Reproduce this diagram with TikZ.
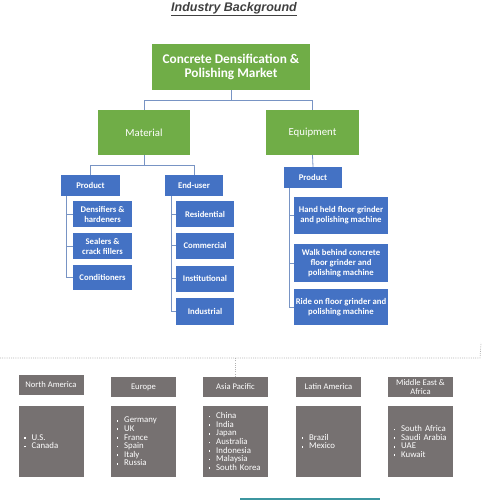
\documentclass[tikz,border=0pt]{standalone}
\usepackage{fontspec}
\setmainfont{Carlito}
\newfontfamily\headfont{Liberation Sans}
\definecolor{mktgreen}{HTML}{70AD47}
\definecolor{segblue}{HTML}{4472C4}
\definecolor{regiongray}{HTML}{767171}
\definecolor{linkblue}{RGB}{120,148,196}
\definecolor{tealbar}{RGB}{60,150,160}
\newcommand{\itm}{\rule[0.3ex]{1.7pt}{1.7pt}\hspace{6pt}}
\tikzset{
  greenbox/.style = {fill = mktgreen, text = white, align = center, inner sep = 0pt},
  bluebox/.style = {fill = segblue, text = white, align = center, inner sep = 0pt,
    font = \bfseries\fontsize{8.7}{10}\selectfont},
  regionhead/.style = {fill = regiongray, text = white, align = center, inner sep = 0pt,
    minimum width = 65pt, minimum height = 20pt, font = \fontsize{8.6}{9.5}\selectfont},
  regionlist/.style = {fill = regiongray, text = white, align = left, inner xsep = 5.5pt,
    inner ysep = 0pt, text width = 54pt, minimum height = 71pt,
    font = \fontsize{8.8}{8.6}\selectfont},
  link/.style = {draw = linkblue, line width = 0.8pt},
  dotline/.style = {draw = black!30, line width = 0.7pt, dash pattern = on 1pt off 1.2pt}
}
\begin{document}
\begin{tikzpicture}[x = 1pt, y = -1pt]
\useasboundingbox (0,0) rectangle (500,500);
\node[font = \headfont\bfseries\itshape\fontsize{12.5}{14}\selectfont, text = black!75] (title) at (234,9) {\underline{Industry Background}};
% market tree
\node[greenbox, minimum width = 158pt, minimum height = 46pt, font = \bfseries\fontsize{13.3}{14.5}\selectfont] (market) at (231,67) {Concrete Densification \&\\Polishing Market};
\node[greenbox, minimum width = 92pt, minimum height = 45pt, font = \fontsize{10.8}{12}\selectfont] (material) at (144,132.5) {Material};
\node[greenbox, minimum width = 93pt, minimum height = 45pt, font = \fontsize{10.8}{12}\selectfont] (equipment) at (312.5,132.5) {Equipment};
\node[bluebox, minimum width = 59pt, minimum height = 21pt] (matproduct) at (90.5,185.5) {Product};
\node[bluebox, minimum width = 58pt, minimum height = 21pt] (enduser) at (194,185.5) {End-user};
\node[bluebox, minimum width = 59pt, minimum height = 26pt] (densifiers) at (102.5,214) {Densifiers \&\\hardeners};
\node[bluebox, minimum width = 59pt, minimum height = 26pt] (sealers) at (102.5,246) {Sealers \&\\crack fillers};
\node[bluebox, minimum width = 59pt, minimum height = 25pt] (conditioners) at (102.5,277.5) {Conditioners};
\node[bluebox, minimum width = 58pt, minimum height = 26pt] (residential) at (205,214) {Residential};
\node[bluebox, minimum width = 58pt, minimum height = 26pt] (commercial) at (205,245.5) {Commercial};
\node[bluebox, minimum width = 58pt, minimum height = 26pt] (institutional) at (205,278.5) {Institutional};
\node[bluebox, minimum width = 58pt, minimum height = 27pt] (industrial) at (205,311.5) {Industrial};
\node[bluebox, minimum width = 58pt, minimum height = 21pt] (eqproduct) at (313,177.5) {Product};
\node[bluebox, minimum width = 94pt, minimum height = 37pt] (handheld) at (341,215.5) {Hand held floor grinder\\and polishing machine};
\node[bluebox, minimum width = 94pt, minimum height = 38pt] (walkbehind) at (341,263) {Walk behind concrete\\floor grinder and\\polishing machine};
\node[bluebox, minimum width = 94pt, minimum height = 36pt] (rideon) at (341,307) {Ride on floor grinder and\\polishing machine};
\draw[link] (market.south) -- ++(0,10) -| (material.north);
\draw[link] (market.south) -- ++(0,10) -| (equipment.north);
\draw[link] (material.south) -- ++(0,10) -| (matproduct.north);
\draw[link] (material.south) -- ++(0,10) -| (enduser.north);
\draw[link] (equipment.south) -- (eqproduct.north);
\foreach \n in {densifiers, sealers, conditioners}
  \draw[link] ([xshift = 6pt]matproduct.south west) |- (\n.west);
\foreach \n in {residential, commercial, institutional, industrial}
  \draw[link] ([xshift = 7pt]enduser.south west) |- (\n.west);
\foreach \n in {handheld, walkbehind, rideon}
  \draw[link] ([xshift = 6pt]eqproduct.south west) |- (\n.west);
% regions
\node[regionhead] (nahead) at (51,385) {North America};
\node[regionhead] (euhead) at (143.5,387) {Europe};
\node[regionhead] (aphead) at (235.5,387) {Asia Pacific};
\node[regionhead] (lahead) at (328.5,387) {Latin America};
\node[regionhead] (mehead) at (420.5,387) {Middle East \&\\Africa};
\node[regionlist] (nalist) at (51,441.5) {\itm U.S.\\\itm Canada};
\node[regionlist] (eulist) at (143.5,441.5) {\itm Germany\\\itm UK\\\itm France\\\itm Spain\\\itm Italy\\\itm Russia};
\node[regionlist] (aplist) at (235.5,441.5) {\itm China\\\itm India\\\itm Japan\\\itm Australia\\\itm Indonesia\\\itm Malaysia\\\itm South Korea};
\node[regionlist] (lalist) at (328.5,441.5) {\itm Brazil\\\itm Mexico};
\node[regionlist] (melist) at (420.5,441.5) {\itm South Africa\\\itm \mbox{Saudi Arabia}\\\itm UAE\\\itm Kuwait};
\coordinate (dotstart) at (0,358);
\coordinate (dotcorner) at (480,358);
\coordinate (dotend) at (481,343);
\draw[dotline] (dotstart) -- (dotcorner) -- (dotend);
\draw[dotline] (aphead.north) -- (aphead.north |- dotstart);
\fill[tealbar] (240,497.5) rectangle (380,500);
\end{tikzpicture}
\end{document}
